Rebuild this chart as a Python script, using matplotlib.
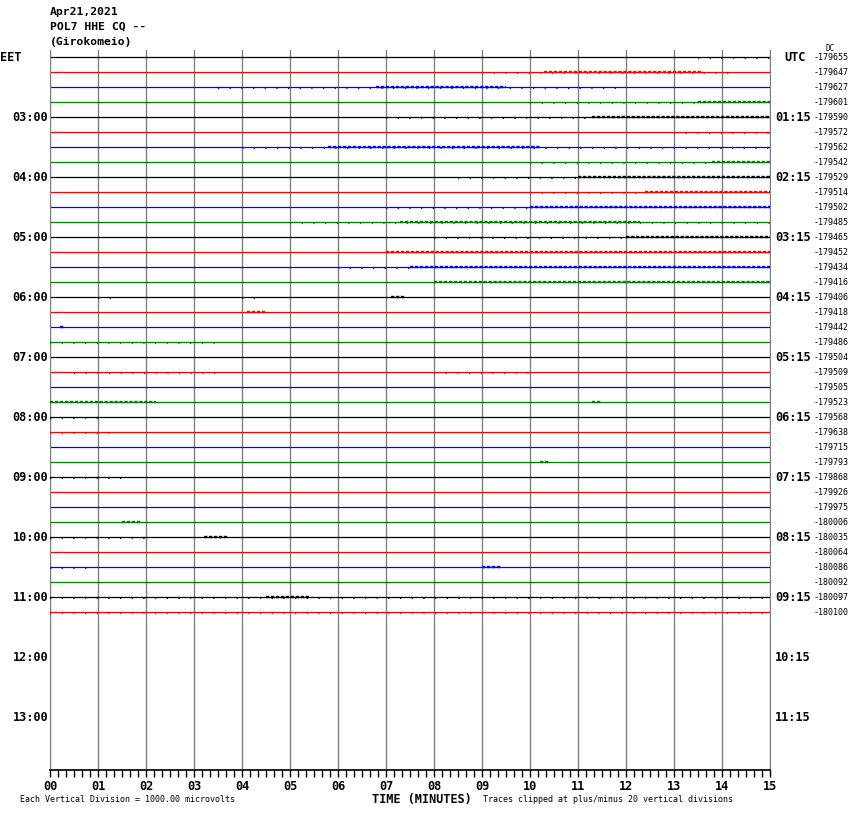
import matplotlib
matplotlib.use("Agg")
import matplotlib.pyplot as plt
from matplotlib.ticker import MultipleLocator

# helicorder: 15 minute lines, 4 per hour, starting 02:00 EET (00:15 UTC)
left_labels = ["EET", "03:00", "04:00", "05:00", "06:00", "07:00", "08:00",
               "09:00", "10:00", "11:00", "12:00", "13:00"]
right_labels = ["UTC", "01:15", "02:15", "03:15", "04:15", "05:15", "06:15",
                "07:15", "08:15", "09:15", "10:15", "11:15"]
dc_values = [-179655, -179647, -179627, -179601, -179590, -179572, -179562,
             -179542, -179529, -179514, -179502, -179485, -179465, -179452,
             -179434, -179416, -179406, -179418, -179442, -179486, -179504,
             -179509, -179505, -179523, -179568, -179638, -179715, -179793,
             -179868, -179926, -179975, -180006, -180035, -180064, -180086,
             -180092, -180097, -180100]
trace_colors = ["#000000", "#ff0000", "#0000ff", "#008000"]

# noisy stretches: (trace, start min, end min)
busy = [(1, 10.3, 13.6), (2, 6.8, 9.5), (3, 13.5, 15), (4, 11.3, 15),
        (6, 5.8, 10.2), (7, 13.8, 15), (8, 11.0, 15), (9, 12.4, 15),
        (10, 10.0, 15), (11, 7.3, 12.3), (12, 12.0, 15), (13, 7.0, 15),
        (14, 7.5, 15), (15, 8.0, 15), (16, 7.1, 7.4), (17, 4.1, 4.5),
        (18, 0.2, 0.3), (23, 0.0, 2.2), (23, 11.3, 11.5), (27, 10.2, 10.4),
        (31, 1.5, 1.9), (32, 3.2, 3.7), (34, 9.0, 9.4), (36, 4.5, 5.4)]
# sparser noise
light = [(0, 13.5, 15), (1, 9.0, 14.2), (2, 3.5, 12), (3, 10.0, 13.5),
         (4, 7.0, 11.3), (5, 13.0, 15), (6, 4.0, 15), (7, 10.0, 13.8),
         (8, 8.5, 11.0), (9, 10.0, 12.4), (10, 7.0, 10.0), (11, 5.0, 15),
         (12, 8.0, 12.0), (14, 6.0, 7.5), (16, 1.0, 1.3), (16, 4.0, 4.3),
         (19, 0.0, 3.5), (21, 0.5, 3.5), (21, 8.0, 10.0), (24, 0.0, 1.0),
         (25, 0.0, 1.3), (28, 0.0, 1.5), (32, 0.0, 2.0), (34, 0.0, 0.8),
         (36, 0.0, 15), (37, 0.0, 15)]

fig = plt.figure(figsize=(8.5, 8.14), dpi=100)
W, H = 850, 814
ax = fig.add_axes([50 / W, 1 - 770 / H, 720 / W, 720 / H])
ax.set_xlim(0, 15)
ax.set_ylim(47.533, -0.467)

for m in range(0, 16):
    ax.axvline(m, color="#808080", lw=1.0, zorder=1)

for k in range(len(dc_values)):
    ax.plot([0, 15], [k, k], color=trace_colors[k % 4], lw=0.9, zorder=2)
for k, a, b in light:
    ax.plot([a, b], [k + 0.04, k + 0.04], color=trace_colors[k % 4], lw=1.5,
            zorder=3, linestyle=(0, (0.6, 5.0)), dash_capstyle="butt")
for k, a, b in busy:
    ax.plot([a, b], [k + 0.03, k + 0.03], color=trace_colors[k % 4], lw=1.7,
            zorder=3, linestyle=(0, (1.4, 0.7)), dash_capstyle="butt")

mono = "DejaVu Sans Mono"
for i, lab in enumerate(left_labels):
    y = i * 4
    if i == 0:
        ax.text(-1.04, y, lab, ha="left", va="center", family=mono,
                fontweight="bold", fontsize=8.6, clip_on=False)
    else:
        ax.text(-0.04, y, lab, ha="right", va="center", family=mono,
                fontweight="bold", fontsize=8.6, clip_on=False)
for i, lab in enumerate(right_labels):
    ax.text(15.3 if i == 0 else 15.1, i * 4, lab, ha="left", va="center",
            family=mono, fontweight="bold", fontsize=8.6, clip_on=False)
for k, v in enumerate(dc_values):
    ax.text(15.9, k, str(v), ha="left", va="center", family=mono,
            fontsize=6.0, clip_on=False)
ax.text(16.15, -0.55, "DC", ha="left", va="center", family=mono,
        fontsize=5.5, clip_on=False)

ax.set_xticks(range(16))
ax.set_xticklabels(["%02d" % m for m in range(16)], family=mono,
                   fontweight="bold", fontsize=8.6)
ax.xaxis.set_minor_locator(MultipleLocator(1 / 6))
ax.tick_params(axis="x", which="both", direction="out", length=5,
               width=1, pad=2)
ax.set_yticks([])
ax.spines["top"].set_visible(False)
ax.spines["left"].set_color("#808080")
ax.spines["right"].set_color("#808080")
ax.spines["bottom"].set_linewidth(1.2)

fig.text(50 / W, 1 - 12 / H, "Apr21,2021", family=mono, fontweight="bold",
         fontsize=8.2, va="center")
fig.text(50 / W, 1 - 27 / H, "POL7 HHE CQ --", family=mono, fontweight="bold",
         fontsize=8.2, va="center")
fig.text(50 / W, 1 - 42 / H, "(Girokomeio)", family=mono, fontweight="bold",
         fontsize=8.2, va="center")
fig.text(422 / W, 1 - 799 / H, "TIME (MINUTES)", family=mono,
         fontweight="bold", fontsize=8.6, ha="center", va="center")
fig.text(20 / W, 1 - 800 / H, "Each Vertical Division = 1000.00 microvolts",
         family=mono, fontsize=6, va="center")
fig.text(483 / W, 1 - 800 / H,
         "Traces clipped at plus/minus 20 vertical divisions",
         family=mono, fontsize=6, va="center")

fig.savefig("out.png", dpi=100)
